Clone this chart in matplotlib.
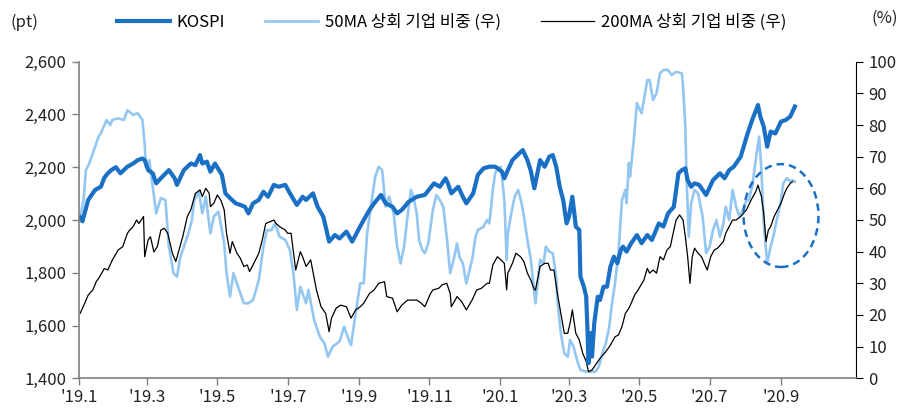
import matplotlib
matplotlib.use('Agg')
import matplotlib.pyplot as plt
from matplotlib.patches import Ellipse
import pandas as pd

plt.rcParams['font.family'] = ['Noto Sans CJK KR', 'DejaVu Sans']

# KOSPI (pt, 좌)
kospi_dates = ['2019-01-02', '2019-01-04', '2019-01-09', '2019-01-15', '2019-01-20', '2019-01-23', '2019-01-26', '2019-01-29',
               '2019-02-02', '2019-02-06', '2019-02-12', '2019-02-17', '2019-02-21', '2019-02-25', '2019-02-27', '2019-03-02',
               '2019-03-06', '2019-03-09', '2019-03-13', '2019-03-20', '2019-03-25', '2019-03-27', '2019-04-02', '2019-04-08',
               '2019-04-12', '2019-04-16', '2019-04-18', '2019-04-22', '2019-04-25', '2019-04-29', '2019-05-05', '2019-05-08',
               '2019-05-12', '2019-05-17', '2019-05-21', '2019-05-25', '2019-05-28', '2019-06-01', '2019-06-06', '2019-06-10',
               '2019-06-14', '2019-06-19', '2019-06-23', '2019-06-29', '2019-07-03', '2019-07-09', '2019-07-14', '2019-07-17',
               '2019-07-23', '2019-07-27', '2019-08-01', '2019-08-06', '2019-08-11', '2019-08-15', '2019-08-21', '2019-08-26',
               '2019-09-01', '2019-09-05', '2019-09-10', '2019-09-14', '2019-09-20', '2019-09-24', '2019-09-30', '2019-10-04',
               '2019-10-08', '2019-10-14', '2019-10-21', '2019-10-28', '2019-11-05', '2019-11-10', '2019-11-15', '2019-11-17',
               '2019-11-20', '2019-11-26', '2019-11-30', '2019-12-03', '2019-12-09', '2019-12-13', '2019-12-18', '2019-12-23',
               '2019-12-28', '2020-01-03', '2020-01-05', '2020-01-08', '2020-01-12', '2020-01-18', '2020-01-21', '2020-01-25',
               '2020-01-28', '2020-01-31', '2020-02-05', '2020-02-09', '2020-02-13', '2020-02-16', '2020-02-19', '2020-02-22',
               '2020-02-25', '2020-02-28', '2020-03-01', '2020-03-04', '2020-03-07', '2020-03-10', '2020-03-11', '2020-03-14',
               '2020-03-16', '2020-03-17', '2020-03-18', '2020-03-20', '2020-03-21', '2020-03-23', '2020-03-26', '2020-03-28',
               '2020-03-31', '2020-04-03', '2020-04-06', '2020-04-09', '2020-04-12', '2020-04-15', '2020-04-17', '2020-04-20',
               '2020-04-24', '2020-04-29', '2020-05-03', '2020-05-08', '2020-05-12', '2020-05-18', '2020-05-22', '2020-05-26',
               '2020-05-31', '2020-06-04', '2020-06-07', '2020-06-10', '2020-06-12', '2020-06-15', '2020-06-18', '2020-06-22',
               '2020-06-28', '2020-07-04', '2020-07-10', '2020-07-14', '2020-07-18', '2020-07-22', '2020-07-28', '2020-08-03',
               '2020-08-07', '2020-08-12', '2020-08-14', '2020-08-17', '2020-08-20', '2020-08-23', '2020-08-27', '2020-09-01',
               '2020-09-05', '2020-09-09', '2020-09-13']
kospi_values = [2010, 1995, 2076, 2114, 2126, 2160, 2177, 2189,
                2200, 2177, 2202, 2214, 2227, 2233, 2227, 2189,
                2177, 2139, 2158, 2189, 2158, 2133, 2189, 2214,
                2208, 2246, 2214, 2221, 2183, 2214, 2171, 2101,
                2083, 2063, 2057, 2050, 2025, 2063, 2076, 2107,
                2088, 2133, 2126, 2133, 2101, 2057, 2088, 2076,
                2101, 2050, 2012, 1918, 1943, 1930, 1956, 1918,
                1968, 2000, 2038, 2063, 2095, 2063, 2050, 2025,
                2038, 2069, 2088, 2095, 2139, 2126, 2158, 2139,
                2101, 2126, 2088, 2063, 2101, 2171, 2196, 2202,
                2202, 2183, 2158, 2189, 2227, 2253, 2265, 2227,
                2185, 2120, 2227, 2202, 2240, 2246, 2202, 2126,
                2076, 1987, 2012, 2088, 1975, 1962, 1785, 1747,
                1709, 1596, 1457, 1571, 1482, 1609, 1709, 1697,
                1747, 1747, 1823, 1861, 1836, 1886, 1899, 1880,
                1912, 1943, 1912, 1943, 1924, 1987, 1975, 2025,
                2050, 2177, 2189, 2196, 2151, 2126, 2139, 2133,
                2095, 2151, 2177, 2158, 2189, 2202, 2240, 2328,
                2379, 2436, 2392, 2354, 2278, 2335, 2328, 2373,
                2379, 2392, 2430]

# 50MA 상회 기업 비중 (%, 우)
ma50_dates = ['2019-01-02', '2019-01-05', '2019-01-07', '2019-01-10', '2019-01-15', '2019-01-18', '2019-01-20', '2019-01-25',
              '2019-01-28', '2019-01-30', '2019-02-04', '2019-02-09', '2019-02-12', '2019-02-17', '2019-02-21', '2019-02-25',
              '2019-02-27', '2019-02-28', '2019-03-03', '2019-03-06', '2019-03-09', '2019-03-13', '2019-03-17', '2019-03-20',
              '2019-03-24', '2019-03-27', '2019-03-30', '2019-04-03', '2019-04-06', '2019-04-09', '2019-04-11', '2019-04-15',
              '2019-04-18', '2019-04-21', '2019-04-25', '2019-04-28', '2019-05-02', '2019-05-07', '2019-05-09', '2019-05-12',
              '2019-05-15', '2019-05-19', '2019-05-24', '2019-05-28', '2019-06-01', '2019-06-06', '2019-06-10', '2019-06-13',
              '2019-06-17', '2019-06-20', '2019-06-24', '2019-06-29', '2019-07-03', '2019-07-06', '2019-07-09', '2019-07-12',
              '2019-07-14', '2019-07-17', '2019-07-19', '2019-07-24', '2019-07-29', '2019-08-02', '2019-08-05', '2019-08-09',
              '2019-08-15', '2019-08-19', '2019-08-22', '2019-08-25', '2019-08-29', '2019-09-02', '2019-09-05', '2019-09-08',
              '2019-09-12', '2019-09-15', '2019-09-18', '2019-09-21', '2019-09-24', '2019-09-27', '2019-10-01', '2019-10-04',
              '2019-10-07', '2019-10-10', '2019-10-13', '2019-10-16', '2019-10-18', '2019-10-21', '2019-10-23', '2019-10-26',
              '2019-10-28', '2019-10-31', '2019-11-04', '2019-11-07', '2019-11-10', '2019-11-13', '2019-11-16', '2019-11-19',
              '2019-11-22', '2019-11-25', '2019-11-27', '2019-11-30', '2019-12-03', '2019-12-08', '2019-12-11', '2019-12-13',
              '2019-12-18', '2019-12-21', '2019-12-23', '2019-12-26', '2019-12-28', '2019-12-30', '2020-01-02', '2020-01-05',
              '2020-01-07', '2020-01-08', '2020-01-11', '2020-01-14', '2020-01-17', '2020-01-20', '2020-01-22', '2020-01-25',
              '2020-01-28', '2020-01-31', '2020-02-01', '2020-02-05', '2020-02-08', '2020-02-10', '2020-02-13', '2020-02-16',
              '2020-02-19', '2020-02-20', '2020-02-23', '2020-02-26', '2020-02-29', '2020-03-02', '2020-03-05', '2020-03-08',
              '2020-03-11', '2020-03-16', '2020-03-20', '2020-03-24', '2020-03-27', '2020-03-30', '2020-04-02', '2020-04-05',
              '2020-04-07', '2020-04-10', '2020-04-13', '2020-04-16', '2020-04-19', '2020-04-20', '2020-04-22', '2020-04-23',
              '2020-04-26', '2020-04-29', '2020-05-03', '2020-05-06', '2020-05-08', '2020-05-10', '2020-05-13', '2020-05-16',
              '2020-05-19', '2020-05-22', '2020-05-26', '2020-05-29', '2020-06-02', '2020-06-07', '2020-06-08', '2020-06-10',
              '2020-06-11', '2020-06-13', '2020-06-15', '2020-06-18', '2020-06-21', '2020-06-25', '2020-06-28', '2020-07-01',
              '2020-07-04', '2020-07-07', '2020-07-10', '2020-07-13', '2020-07-15', '2020-07-18', '2020-07-21', '2020-07-24',
              '2020-07-27', '2020-07-30', '2020-08-02', '2020-08-04', '2020-08-07', '2020-08-10', '2020-08-13', '2020-08-15',
              '2020-08-17', '2020-08-20', '2020-08-23', '2020-08-26', '2020-08-27', '2020-08-29', '2020-09-01', '2020-09-03',
              '2020-09-06', '2020-09-09', '2020-09-11', '2020-09-13']
ma50_values = [51.0, 56.3, 65.8, 67.9, 73.2, 76.3, 77.4, 81.6,
               80.0, 81.6, 82.1, 81.6, 84.7, 83.2, 83.7, 81.6,
               74.2, 66.8, 68.9, 60.5, 52.1, 56.9, 56.3, 41.6,
               33.2, 32.1, 38.4, 42.6, 45.8, 50.0, 56.3, 58.9,
               52.1, 57.4, 45.8, 51.1, 52.6, 42.6, 33.2, 25.8,
               33.2, 28.9, 23.7, 23.7, 24.7, 31.0, 41.6, 46.8,
               46.8, 48.9, 44.7, 43.7, 40.5, 33.2, 21.6, 28.9,
               26.8, 23.7, 27.9, 18.4, 13.1, 11.0, 6.8, 10.0,
               11.6, 16.3, 13.1, 10.5, 20.5, 30.0, 30.0, 45.8,
               56.3, 63.7, 66.8, 65.8, 54.2, 57.4, 52.1, 41.6,
               36.3, 41.6, 51.1, 59.5, 57.4, 52.1, 43.7, 40.5,
               39.5, 42.6, 53.2, 57.9, 56.3, 54.2, 44.7, 33.2,
               37.4, 42.6, 38.4, 36.3, 30.0, 37.4, 44.7, 46.8,
               47.9, 50.0, 48.9, 59.5, 64.7, 66.3, 66.8, 56.3,
               37.4, 45.8, 52.1, 57.4, 59.5, 55.3, 51.1, 43.7,
               37.4, 26.8, 23.7, 37.4, 36.3, 41.6, 40.0, 39.5,
               32.1, 24.7, 14.2, 7.9, 6.8, 12.1, 10.0, 5.8,
               2.6, 2.1, 2.1, 2.1, 3.7, 7.9, 11.0, 16.3,
               22.6, 30.0, 39.5, 56.3, 59.5, 55.3, 68.0, 63.7,
               74.2, 86.9, 83.7, 90.0, 94.2, 94.2, 87.9, 90.0,
               96.3, 97.4, 97.4, 95.8, 96.8, 96.3, 92.1, 79.5,
               63.7, 44.7, 55.3, 59.5, 58.4, 51.1, 39.5, 41.6,
               46.8, 50.0, 44.7, 48.9, 54.2, 50.0, 59.5, 54.2,
               51.1, 53.2, 56.3, 56.3, 60.5, 68.9, 76.3, 65.8,
               48.9, 36.3, 41.6, 45.8, 47.9, 51.1, 56.3, 61.6,
               63.2, 62.1, 62.6, 62.1]

# 200MA 상회 기업 비중 (%, 우)
ma200_dates = ['2019-01-02', '2019-01-06', '2019-01-09', '2019-01-13', '2019-01-16', '2019-01-19', '2019-01-23', '2019-01-26',
               '2019-01-30', '2019-02-04', '2019-02-08', '2019-02-12', '2019-02-14', '2019-02-17', '2019-02-20', '2019-02-22',
               '2019-02-26', '2019-02-27', '2019-03-02', '2019-03-04', '2019-03-07', '2019-03-10', '2019-03-13', '2019-03-16',
               '2019-03-19', '2019-03-23', '2019-03-26', '2019-03-28', '2019-04-01', '2019-04-05', '2019-04-08', '2019-04-12',
               '2019-04-16', '2019-04-18', '2019-04-21', '2019-04-24', '2019-04-25', '2019-04-28', '2019-05-01', '2019-05-04',
               '2019-05-07', '2019-05-09', '2019-05-12', '2019-05-14', '2019-05-18', '2019-05-21', '2019-05-24', '2019-05-27',
               '2019-05-29', '2019-06-01', '2019-06-06', '2019-06-09', '2019-06-12', '2019-06-16', '2019-06-19', '2019-06-21',
               '2019-06-24', '2019-06-29', '2019-07-01', '2019-07-04', '2019-07-08', '2019-07-12', '2019-07-14', '2019-07-17',
               '2019-07-21', '2019-07-26', '2019-07-30', '2019-08-03', '2019-08-06', '2019-08-08', '2019-08-12', '2019-08-16',
               '2019-08-21', '2019-08-25', '2019-08-29', '2019-09-02', '2019-09-05', '2019-09-10', '2019-09-14', '2019-09-18',
               '2019-09-23', '2019-09-25', '2019-09-30', '2019-10-04', '2019-10-08', '2019-10-13', '2019-10-21', '2019-10-24',
               '2019-10-28', '2019-11-02', '2019-11-04', '2019-11-09', '2019-11-12', '2019-11-16', '2019-11-19', '2019-11-20',
               '2019-11-25', '2019-11-29', '2019-12-03', '2019-12-08', '2019-12-12', '2019-12-16', '2019-12-21', '2019-12-23',
               '2019-12-26', '2019-12-30', '2020-01-02', '2020-01-05', '2020-01-07', '2020-01-08', '2020-01-12', '2020-01-15',
               '2020-01-19', '2020-01-22', '2020-01-25', '2020-01-28', '2020-01-31', '2020-02-01', '2020-02-05', '2020-02-09',
               '2020-02-12', '2020-02-14', '2020-02-17', '2020-02-20', '2020-02-23', '2020-02-26', '2020-02-29', '2020-03-02',
               '2020-03-04', '2020-03-07', '2020-03-10', '2020-03-13', '2020-03-16', '2020-03-18', '2020-03-21', '2020-03-24',
               '2020-03-28', '2020-04-02', '2020-04-06', '2020-04-10', '2020-04-13', '2020-04-16', '2020-04-19', '2020-04-22',
               '2020-04-24', '2020-04-27', '2020-04-30', '2020-05-05', '2020-05-08', '2020-05-10', '2020-05-13', '2020-05-16',
               '2020-05-19', '2020-05-22', '2020-05-25', '2020-05-28', '2020-05-31', '2020-06-02', '2020-06-05', '2020-06-08',
               '2020-06-10', '2020-06-12', '2020-06-14', '2020-06-16', '2020-06-18', '2020-06-21', '2020-06-24', '2020-06-27',
               '2020-06-29', '2020-07-02', '2020-07-05', '2020-07-08', '2020-07-13', '2020-07-15', '2020-07-18', '2020-07-21',
               '2020-07-24', '2020-07-28', '2020-08-02', '2020-08-06', '2020-08-10', '2020-08-12', '2020-08-15', '2020-08-17',
               '2020-08-19', '2020-08-21', '2020-08-23', '2020-08-26', '2020-08-29', '2020-09-01', '2020-09-04', '2020-09-06',
               '2020-09-09', '2020-09-11']
ma200_values = [20.5, 23.7, 26.3, 27.9, 30.5, 32.1, 34.7, 34.2,
                37.4, 40.5, 41.6, 45.8, 46.8, 47.9, 50.0, 48.9,
                51.1, 38.4, 43.7, 44.7, 39.9, 41.6, 46.8, 47.4,
                45.8, 39.5, 36.9, 39.5, 44.7, 51.1, 53.2, 58.4,
                59.5, 57.4, 60.0, 58.4, 54.2, 55.3, 57.9, 56.3,
                53.2, 45.8, 39.5, 43.2, 39.5, 37.9, 35.3, 35.8,
                33.7, 35.8, 39.5, 43.7, 48.9, 49.5, 50.0, 48.9,
                47.9, 46.8, 45.8, 45.8, 34.2, 40.0, 38.4, 35.3,
                37.4, 27.9, 22.6, 20.5, 14.7, 19.0, 22.1, 23.1,
                22.6, 19.0, 21.6, 22.6, 23.7, 26.8, 27.9, 30.0,
                30.5, 25.8, 25.3, 21.0, 23.1, 24.7, 24.7, 24.0,
                22.6, 26.8, 27.9, 28.4, 29.5, 30.0, 26.8, 22.6,
                25.8, 24.2, 21.6, 24.7, 27.9, 28.4, 30.0, 30.0,
                35.8, 38.4, 37.4, 36.3, 27.9, 33.2, 36.3, 39.5,
                38.4, 36.8, 33.2, 31.0, 28.0, 27.9, 35.3, 36.3,
                36.3, 34.2, 34.2, 26.8, 20.5, 14.2, 14.2, 17.4,
                21.6, 14.2, 12.1, 7.9, 5.3, 2.1, 2.6, 4.2,
                6.3, 8.4, 10.5, 13.1, 13.7, 16.3, 20.5, 22.1,
                23.7, 26.3, 27.9, 31.0, 34.7, 33.2, 34.2, 33.2,
                38.4, 37.4, 40.5, 41.6, 46.8, 50.0, 51.6, 50.0,
                44.7, 38.4, 30.0, 38.4, 41.1, 39.5, 38.4, 35.8,
                34.2, 38.4, 40.5, 41.1, 43.2, 45.8, 47.9, 50.0,
                50.0, 51.1, 53.2, 56.3, 58.9, 61.0, 57.4, 52.1,
                43.2, 46.8, 47.9, 51.1, 53.2, 55.3, 58.4, 60.0,
                61.6, 62.1]

xtick_dates = ['2019-01-01', '2019-03-01', '2019-05-01', '2019-07-01', '2019-09-01', '2019-11-01',
               '2020-01-01', '2020-03-01', '2020-05-01', '2020-07-01', '2020-09-01']
xtick_labels = ["'19.1", "'19.3", "'19.5", "'19.7", "'19.9", "'19.11",
                "'20.1", "'20.3", "'20.5", "'20.7", "'20.9"]

c_kospi = '#1a70c4'
c_ma50 = '#93c6f0'
c_ma200 = '#000000'

fig = plt.figure(figsize=(9.14, 4.11), dpi=100)
ax = fig.add_axes([0.0864, 0.0796, 0.8501, 0.7703])
ax2 = ax.twinx()

kx = pd.to_datetime(kospi_dates)
x50 = pd.to_datetime(ma50_dates)
x200 = pd.to_datetime(ma200_dates)

l2, = ax2.plot(x50, ma50_values, color=c_ma50, lw=1.9, label='50MA 상회 기업 비중 (우)')
l3, = ax2.plot(x200, ma200_values, color=c_ma200, lw=0.9, label='200MA 상회 기업 비중 (우)')
l1, = ax2.plot([], [], color=c_kospi, lw=3.0, label='KOSPI')
ax2.set_zorder(1)
ax.set_zorder(2)
ax.patch.set_visible(False)
ax.plot(kx, kospi_values, color=c_kospi, lw=3.0)

xmin, xmax = pd.Timestamp('2019-01-01'), pd.Timestamp('2020-11-05')
ax.set_xlim(xmin, xmax)
ax.set_ylim(1400, 2600)
ax.set_yticks(range(1400, 2601, 200))
ax.set_yticklabels([f'{v:,}' for v in range(1400, 2601, 200)])
ax2.set_ylim(0, 100)
ax2.set_yticks(range(0, 101, 10))

ax.set_xticks(pd.to_datetime(xtick_dates))
ax.set_xticklabels(xtick_labels)

for a in (ax, ax2):
    a.spines['top'].set_visible(False)
ax.spines['left'].set_color('#808080')
ax.spines['bottom'].set_color('#808080')
ax.spines['right'].set_visible(False)
ax2.spines['left'].set_visible(False)
ax2.spines['bottom'].set_visible(False)
ax2.spines['right'].set_color('#000000')
ax2.spines['right'].set_linewidth(0.8)
ax.spines['left'].set_linewidth(1.2)
ax.spines['bottom'].set_linewidth(1.2)

ax.tick_params(axis='y', length=5, width=1, color='#808080', labelsize=12, pad=4, labelcolor='#222222')
ax.tick_params(axis='x', length=5, width=1, color='#808080', labelsize=12, pad=3, labelcolor='#222222')
ax2.tick_params(axis='y', length=5, width=0.8, color='#000000', labelsize=12, pad=4, labelcolor='#222222')

# 하이라이트 원
ell = Ellipse((pd.Timestamp('2020-09-01'), 51.4), width=65, height=32.5, fill=False,
              edgecolor='#1a70c4', lw=1.8, linestyle=(0, (3, 2)), zorder=5)
ax2.add_patch(ell)

fig.text(0.011, 0.945, '(pt)', fontsize=12, color='#222222', va='center')
fig.text(0.953, 0.955, '(%)', fontsize=12, color='#222222', va='center')

fig.legend(handles=[l1, l2, l3], loc='center', bbox_to_anchor=(0.494, 0.945), ncol=3, frameon=False,
           fontsize=12, handlelength=3.2, columnspacing=2.4, handletextpad=0.4)

fig.savefig('out.png', dpi=100)
